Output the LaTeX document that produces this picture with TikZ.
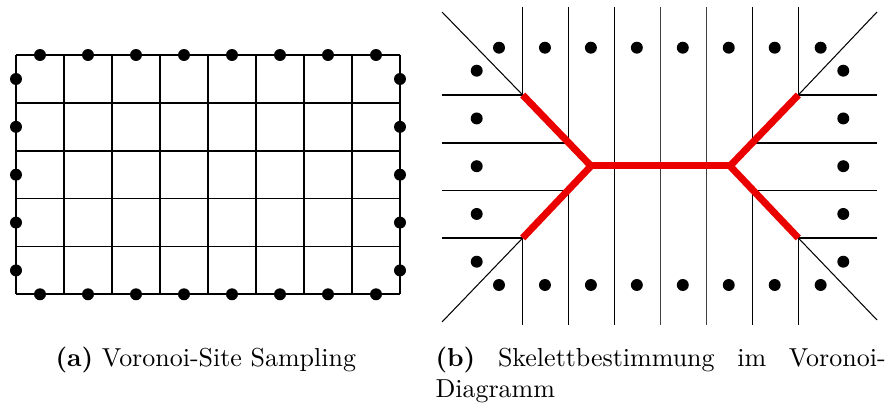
\documentclass[tikz,border=0pt]{standalone}
\usepackage{tikz}
\tikzset{
  gridl/.style={line width=0.7pt, black},
  vline/.style={line width=0.55pt, black},
  vlight/.style={line width=0.45pt, black!75},
  diag/.style={line width=0.4pt, black},
  skel/.style={line width=2.7pt, red!92!black, line cap=butt, line join=miter},
  site/.style={circle, fill=black, inner sep=0pt, minimum size=4.6pt},
  capt/.style={inner sep=0pt, font=\normalsize},
}
\begin{document}
\begin{tikzpicture}[x=0.385pt, y=-0.385pt]
\useasboundingbox (0,0) rectangle (894,406);
% ---------------- panel (a) ----------------
\foreach \k in {0,...,8} {
  \draw[gridl] ({16+48*\k},55) -- ({16+48*\k},294.3);
}
\foreach \k in {0,...,5} {
  \draw[gridl] (16,{55+47.86*\k}) -- (400,{55+47.86*\k});
}
\foreach \k in {0,...,7} {
  \node[site] (at\k) at ({40+48*\k},55) {};
  \node[site] (ab\k) at ({40+48*\k},294.3) {};
}
\foreach \k in {0,...,4} {
  \node[site] (al\k) at (16,{79+47.86*\k}) {};
  \node[site] (ar\k) at (400,{79+47.86*\k}) {};
}
% ---------------- panel (b) ----------------
% skeleton vertices
\coordinate (A1) at (522.7,95);
\coordinate (A2) at (522.7,238);
\coordinate (A3) at (798.3,95);
\coordinate (A4) at (798.3,238);
\coordinate (B) at (591,166);
\coordinate (C) at (730,166);
% vertical lines
\draw[vline] (522.7,7) -- (A1);
\draw[vline] (A2) -- (522.7,325);
\draw[vline] (798.3,7) -- (A3);
\draw[vline] (A4) -- (798.3,325);
\draw[vline] (568.6,7) -- (568.6,143);
\draw[vline] (568.6,190.5) -- (568.6,325);
\draw[vline] (752.4,7) -- (752.4,143);
\draw[vline] (752.4,190.5) -- (752.4,325);
\draw[vline] (614.5,7) -- (614.5,325);
\draw[vlight] (660.5,7) -- (660.5,325);
\draw[vlight] (706.4,7) -- (706.4,325);
% horizontal lines
\draw[vline] (442,95) -- (A1);
\draw[vline] (442,238) -- (A2);
\draw[vline] (442,143) -- (568.6,143);
\draw[vline] (442,190.5) -- (568.6,190.5);
\draw[vline] (A3) -- (877,95);
\draw[vline] (A4) -- (877,238);
\draw[vline] (752.4,143) -- (877,143);
\draw[vline] (752.4,190.5) -- (877,190.5);
% diagonals
\coordinate (D1) at (442,12);
\coordinate (D2) at (442,322);
\coordinate (D3) at (877,12);
\coordinate (D4) at (877,320);
\draw[diag] (D1) -- (A1);
\draw[diag] (D2) -- (A2);
\draw[diag] (D3) -- (A3);
\draw[diag] (D4) -- (A4);
% skeleton
\draw[skel] (A1) -- (B) -- (A2);
\draw[skel] (B) -- (C);
\draw[skel] (A3) -- (C) -- (A4);
% sites
\foreach \k in {0,...,7} {
  \node[site] (bt\k) at ({499+45.95*\k},47.7) {};
  \node[site] (bb\k) at ({499+45.95*\k},285) {};
}
\foreach \k in {0,...,4} {
  \node[site] (bl\k) at (476.7,{70.7+47.75*\k}) {};
  \node[site] (br\k) at (843.3,{70.7+47.75*\k}) {};
}
% ---------------- captions ----------------
\node[capt, anchor=base west] (capa) at (55,366.7) {\textbf{(a)} Voronoi-Site Sampling};
\node[capt, anchor=base west] (capb) at (435,366.7)
  {\parbox[t]{173.3pt}{\textbf{(b)} Skelettbestimmung im Voronoi-\linebreak Diagramm}};
\end{tikzpicture}
\end{document}
